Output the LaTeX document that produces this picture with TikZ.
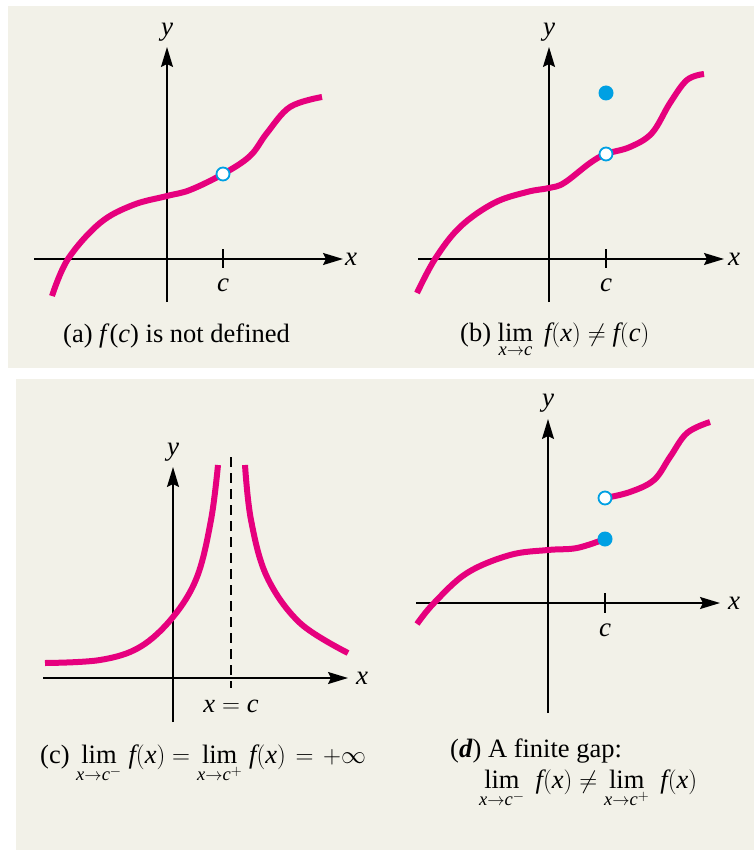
\documentclass[tikz,border=0pt]{standalone}
\usepackage{amsmath}
\usepackage{mathtools}
\usepackage{fontspec}
\setmainfont{Liberation Serif}
\usetikzlibrary{arrows.meta}
\definecolor{bg}{RGB}{242,241,232}
\definecolor{mag}{RGB}{230,0,126}
\definecolor{dotblue}{RGB}{0,160,227}
\newcommand{\vi}[1]{\textit{#1}}
\newcommand{\limgap}{\mkern5mu}
\tikzset{
  axis/.style={line width=1.7pt, -{Stealth[length=20pt,width=12pt,inset=3pt]}},
  tickmark/.style={line width=1.3pt},
  curve/.style={line width=6pt, draw=mag},
  opendot/.style={circle, draw=dotblue, fill=white, line width=1.8pt, minimum size=13pt, inner sep=0pt},
  filldot/.style={circle, fill=dotblue, minimum size=15pt, inner sep=0pt},
  lab/.style={font=\fontsize{27}{31}\selectfont\itshape, inner sep=0pt},
  capt/.style={font=\fontsize{26.5}{31}\selectfont, inner sep=0pt},
}
\begin{document}
\begin{tikzpicture}[x=1pt,y=-1pt]
\useasboundingbox (0,0) rectangle (754,850);
\fill[bg] (8,6) rectangle (754,368);
\fill[bg] (16,379) rectangle (754,850);

% ---------- (a) ----------
\coordinate (aXs) at (34,259); \coordinate (aXe) at (343,259);
\coordinate (aYs) at (167,302); \coordinate (aYe) at (167,47);
\draw[axis] (aXs) -- (aXe);
\draw[axis] (aYs) -- (aYe);
\coordinate (aT1) at (223,249); \coordinate (aT2) at (223,268);
\draw[tickmark] (aT1) -- (aT2);
\node[lab] (ax) at (351,259) {x};
\node[lab] (ay) at (167,32) {y};
\node[lab] (ac) at (223,285) {c};
\draw[curve] plot[smooth, tension=0.6] coordinates {(52,296) (68,259) (100,223) (133,205) (167,196) (190,190) (223,174) (250,156) (267,133) (290,107) (322,97)};
\node[opendot] (ahole) at (223,174) {};
\node[capt, anchor=base west] (capa) at (63,342) {(a) \vi{f}(\vi{c}) is not defined};

% ---------- (b) ----------
\coordinate (bXs) at (418,259); \coordinate (bXe) at (724,259);
\coordinate (bYs) at (549,302); \coordinate (bYe) at (549,47);
\draw[axis] (bXs) -- (bXe);
\draw[axis] (bYs) -- (bYe);
\coordinate (bT1) at (606,249); \coordinate (bT2) at (606,268);
\draw[tickmark] (bT1) -- (bT2);
\node[lab] (bx) at (734,259) {x};
\node[lab] (by) at (549,32) {y};
\node[lab] (bc) at (606,285) {c};
\draw[curve] plot[smooth, tension=0.6] coordinates {(417,293) (435,259) (460,227) (494,203) (527,192) (549,188) (564,183) (590,163) (606,154) (630,147) (652,133) (670,103) (687,80) (704,74)};
\node[opendot] (bhole) at (606,154) {};
\node[filldot] (bdot) at (606,93) {};
\node[capt, anchor=base west] (capb) at (460,341) {(b) $\lim\limits_{\vi{x}\to\vi{c}}\limgap \vi{f}(\vi{x}) \neq \vi{f}(\vi{c})$};

% ---------- (c) ----------
\coordinate (cXs) at (43,678); \coordinate (cXe) at (348,678);
\coordinate (cYs) at (173,722); \coordinate (cYe) at (173,467);
\draw[axis] (cXs) -- (cXe);
\draw[axis] (cYs) -- (cYe);
\coordinate (cD1) at (231,457); \coordinate (cD2) at (231,688);
\draw[line width=1.2pt, dash pattern=on 10pt off 6pt] (cD1) -- (cD2);
\node[lab] (cx) at (362,678) {x};
\node[lab] (cy) at (173,452) {y};
\node[capt, anchor=base] (cxc) at (231,712) {$\vi{x} = \vi{c}$};
\draw[curve] plot[smooth, tension=0.6] coordinates {(45,663) (100,660) (140,647) (173,617) (197,577) (211,520) (218,465)};
\draw[curve] plot[smooth, tension=0.6] coordinates {(245,465) (251,520) (267,577) (300,623) (348,653)};
\node[capt, anchor=base west] (capc) at (40,763) {(c) $\lim\limits_{\vi{x}\to\vi{c}^-}\mkern2mu \vi{f}(\vi{x}) = \lim\limits_{\vi{x}\to\vi{c}^+}\mkern2mu \vi{f}(\vi{x}) \mkern2mu=\mkern2mu +\infty$};

% ---------- (d) ----------
\coordinate (dXs) at (416,603); \coordinate (dXe) at (720,603);
\coordinate (dYs) at (548,713); \coordinate (dYe) at (548,419);
\draw[axis] (dXs) -- (dXe);
\draw[axis] (dYs) -- (dYe);
\coordinate (dT1) at (605,593); \coordinate (dT2) at (605,613);
\draw[tickmark] (dT1) -- (dT2);
\node[lab] (dx) at (734,603) {x};
\node[lab] (dy) at (548,403) {y};
\node[lab] (dc) at (605,630) {c};
\draw[curve] plot[smooth, tension=0.6] coordinates {(417,624) (434,603) (467,573) (510,555) (548,550) (577,548) (605,539)};
\draw[curve] plot[smooth, tension=0.6] coordinates {(605,498) (630,492) (654,480) (670,457) (687,433) (710,422)};
\node[filldot] (dfill) at (605,539) {};
\node[opendot] (dhole) at (605,498) {};
\node[capt, anchor=base west] (capd1) at (450,757) {(\textbf{\textit{d}}) A finite gap:};
\node[capt, anchor=base west] (capd2) at (479,788) {$\lim\limits_{\vi{x}\to\vi{c}^-}\limgap \vi{f}(\vi{x}) \neq \lim\limits_{\vi{x}\to\vi{c}^+}\limgap \vi{f}(\vi{x})$};
\end{tikzpicture}
\end{document}
